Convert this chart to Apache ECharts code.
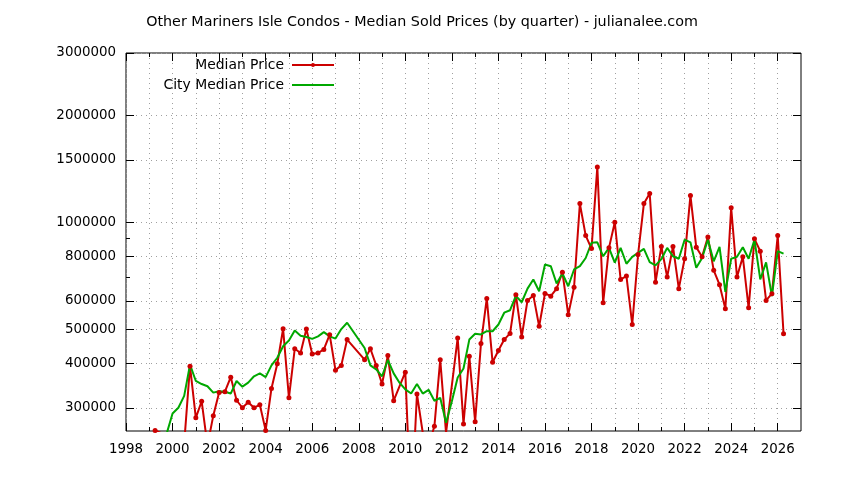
<!DOCTYPE html>
<html><head><meta charset="utf-8">
<script src="https://cdn.jsdelivr.net/npm/echarts@6/dist/echarts.min.js"></script>
<style>html,body{margin:0;padding:0;background:#fff}#c{width:844px;height:480px}</style>
</head><body><div id="c"></div>
<script>
const titleText = 'Other Mariners Isle Condos - Median Sold Prices (by quarter) - julianalee.com';
const seriesNames = ['Median Price', 'City Median Price'];

const medianYears = [1999.25,2000.5,2000.75,2001.0,2001.25,2001.5,2001.75,2002.0,2002.25,2002.5,2002.75,2003.0,2003.25,2003.5,2003.75,2004.0,2004.25,2004.5,2004.75,2005.0,2005.25,2005.5,2005.75,2006.0,2006.25,2006.5,2006.75,2007.0,2007.25,2007.5,2008.25,2008.5,2008.75,2009.0,2009.25,2009.5,2010.0,2010.25,2010.5,2010.75,2011.0,2011.25,2011.5,2011.75,2012.25,2012.5,2012.75,2013.0,2013.25,2013.5,2013.75,2014.0,2014.25,2014.5,2014.75,2015.0,2015.25,2015.5,2015.75,2016.0,2016.25,2016.5,2016.75,2017.0,2017.25,2017.5,2017.75,2018.0,2018.25,2018.5,2018.75,2019.0,2019.25,2019.5,2019.75,2020.0,2020.25,2020.5,2020.75,2021.0,2021.25,2021.5,2021.75,2022.0,2022.25,2022.5,2022.75,2023.0,2023.25,2023.5,2023.75,2024.0,2024.25,2024.5,2024.75,2025.0,2025.25,2025.5,2025.75,2026.0,2026.25];
const medianValues = [259000,238000,393000,281000,313000,235000,285000,331000,333000,366000,315000,300000,311000,300000,306000,259000,340000,399000,501000,320000,440000,428000,500000,425000,428000,438000,482000,383000,395000,467000,410000,440000,395000,350000,421000,314000,378000,150000,328000,255000,235000,266000,410000,255000,472000,270000,419000,274000,455000,610000,403000,435000,467000,486000,625000,475000,602000,622000,509000,630000,619000,650000,723000,549000,656000,1129000,917000,843000,1432000,593000,847000,1000000,690000,705000,515000,811000,1129000,1205000,677000,855000,701000,855000,650000,789000,1190000,850000,799000,909000,732000,667000,570000,1098000,701000,799000,574000,898000,829000,602000,629000,917000,485000];

const cityYears = [1999.75,2000.0,2000.25,2000.5,2000.75,2001.0,2001.25,2001.5,2001.75,2002.0,2002.25,2002.5,2002.75,2003.0,2003.25,2003.5,2003.75,2004.0,2004.25,2004.5,2004.75,2005.0,2005.25,2005.5,2005.75,2006.0,2006.25,2006.5,2006.75,2007.0,2007.25,2007.5,2008.25,2008.5,2008.75,2009.0,2009.25,2009.5,2009.75,2010.0,2010.25,2010.5,2010.75,2011.0,2011.25,2011.5,2011.75,2012.0,2012.25,2012.5,2012.75,2013.0,2013.25,2013.5,2013.75,2014.0,2014.25,2014.5,2014.75,2015.0,2015.25,2015.5,2015.75,2016.0,2016.25,2016.5,2016.75,2017.0,2017.25,2017.5,2017.75,2018.0,2018.25,2018.5,2018.75,2019.0,2019.25,2019.5,2019.75,2020.0,2020.25,2020.5,2020.75,2021.0,2021.25,2021.5,2021.75,2022.0,2022.25,2022.5,2022.75,2023.0,2023.25,2023.5,2023.75,2024.0,2024.25,2024.5,2024.75,2025.0,2025.25,2025.5,2025.75,2026.0,2026.25];
const cityValues = [254000,289000,300000,324000,397000,357000,350000,345000,331000,334000,333000,329000,357000,344000,353000,368000,375000,366000,395000,415000,447000,464000,495000,479000,475000,469000,477000,490000,477000,470000,500000,521000,442000,395000,385000,368000,409000,375000,353000,338000,329000,350000,329000,337000,314000,320000,272000,313000,365000,387000,467000,485000,483000,493000,493000,515000,556000,565000,620000,595000,650000,690000,639000,760000,752000,672000,717000,660000,736000,752000,793000,875000,878000,802000,847000,769000,847000,764000,799000,820000,841000,772000,756000,787000,847000,802000,789000,893000,878000,744000,793000,893000,776000,852000,636000,789000,799000,850000,789000,893000,690000,771000,619000,829000,816000];

const xMajorTicks = [1998,2000,2002,2004,2006,2008,2010,2012,2014,2016,2018,2020,2022,2024,2026];
const xMinorTicks = [1999,2001,2003,2005,2007,2009,2011,2013,2015,2017,2019,2021,2023,2025];
const yMajorTicks = [300000,400000,500000,600000,800000,1000000,1500000,2000000,3000000];
const yMinorTicks = [700000,900000];
const xRange = [1998, 2027];
const yRange = [258000, 3000000];

const FONT = 'DejaVu Sans';
const gridStyle = {color: '#a0a0a0', width: 1, type: [1, 4]};
const medianData = medianYears.map((x, i) => [x, medianValues[i]]);
const cityData = cityYears.map((x, i) => [x, cityValues[i]]);

function xAx(pos, ticks, len, labels, split) {
  return {
    type: 'value', position: pos, min: xRange[0], max: xRange[1],
    axisLine: {show: false},
    axisTick: {show: true, inside: true, length: len, customValues: ticks, lineStyle: {color: '#000', width: 1}},
    axisLabel: labels ? {show: true, customValues: ticks, margin: 12, fontSize: 13.4, fontFamily: FONT, color: '#000',
      formatter: v => String(Math.round(v))} : {show: false},
    splitLine: {show: split, lineStyle: gridStyle},
    minorTick: {show: false}, minorSplitLine: {show: false}
  };
}
function yAx(pos, ticks, len, labels, split) {
  return {
    type: 'log', logBase: 10, position: pos, min: yRange[0], max: yRange[1],
    axisLine: {show: false},
    axisTick: {show: true, inside: true, length: len, customValues: ticks, lineStyle: {color: '#000', width: 1}},
    axisLabel: labels ? {show: true, customValues: ticks, margin: 10, fontSize: 13.4, fontFamily: FONT, color: '#000',
      formatter: v => String(Math.round(v))} : {show: false},
    splitLine: {show: split, lineStyle: gridStyle},
    minorTick: {show: false}, minorSplitLine: {show: false}
  };
}

const legendText = {fontSize: 13.9, fontFamily: FONT, color: '#000', padding: [0, 3, 0, 0]};
const chart = echarts.init(document.getElementById('c'), null, {renderer: 'canvas'});
chart.setOption({
  animation: false,
  backgroundColor: '#fff',
  title: {text: titleText, left: 'center', top: 10,
    textStyle: {fontSize: 14.3, fontWeight: 'normal', fontFamily: FONT, color: '#000'}},
  grid: {left: 126, right: 43, top: 53, bottom: 49, show: true, borderColor: '#000', borderWidth: 1, backgroundColor: 'transparent'},
  legend: [
    {data: [{name: seriesNames[0]}], right: 509, top: 58, orient: 'horizontal', align: 'right', itemWidth: 42, itemHeight: 5, padding: 0,
      textStyle: legendText},
    {data: [{name: seriesNames[1], itemStyle: {opacity: 0}}], right: 509, top: 78, orient: 'horizontal', align: 'right', itemWidth: 42, itemHeight: 5, padding: 0,
      textStyle: legendText}
  ],
  xAxis: [
    xAx('bottom', xMajorTicks, 8, true, true),
    xAx('bottom', xMinorTicks, 4, false, true),
    xAx('top', xMajorTicks, 8, false, false),
    xAx('top', xMinorTicks, 4, false, false)
  ],
  yAxis: [
    yAx('left', yMajorTicks, 8, true, true),
    yAx('left', yMinorTicks, 4, false, false),
    yAx('right', yMajorTicks, 8, false, false),
    yAx('right', yMinorTicks, 4, false, false)
  ],
  series: [
    {name: seriesNames[0], type: 'line', xAxisIndex: 0, yAxisIndex: 0, data: medianData,
      symbol: 'circle', symbolSize: 5, showSymbol: true, clip: true,
      lineStyle: {color: '#cc0000', width: 2}, itemStyle: {color: '#cc0000'}},
    {name: seriesNames[1], type: 'line', xAxisIndex: 0, yAxisIndex: 0, data: cityData,
      symbol: 'none', clip: true,
      lineStyle: {color: '#00a800', width: 2}, itemStyle: {color: '#00a800'}}
  ]
});
</script></body></html>
